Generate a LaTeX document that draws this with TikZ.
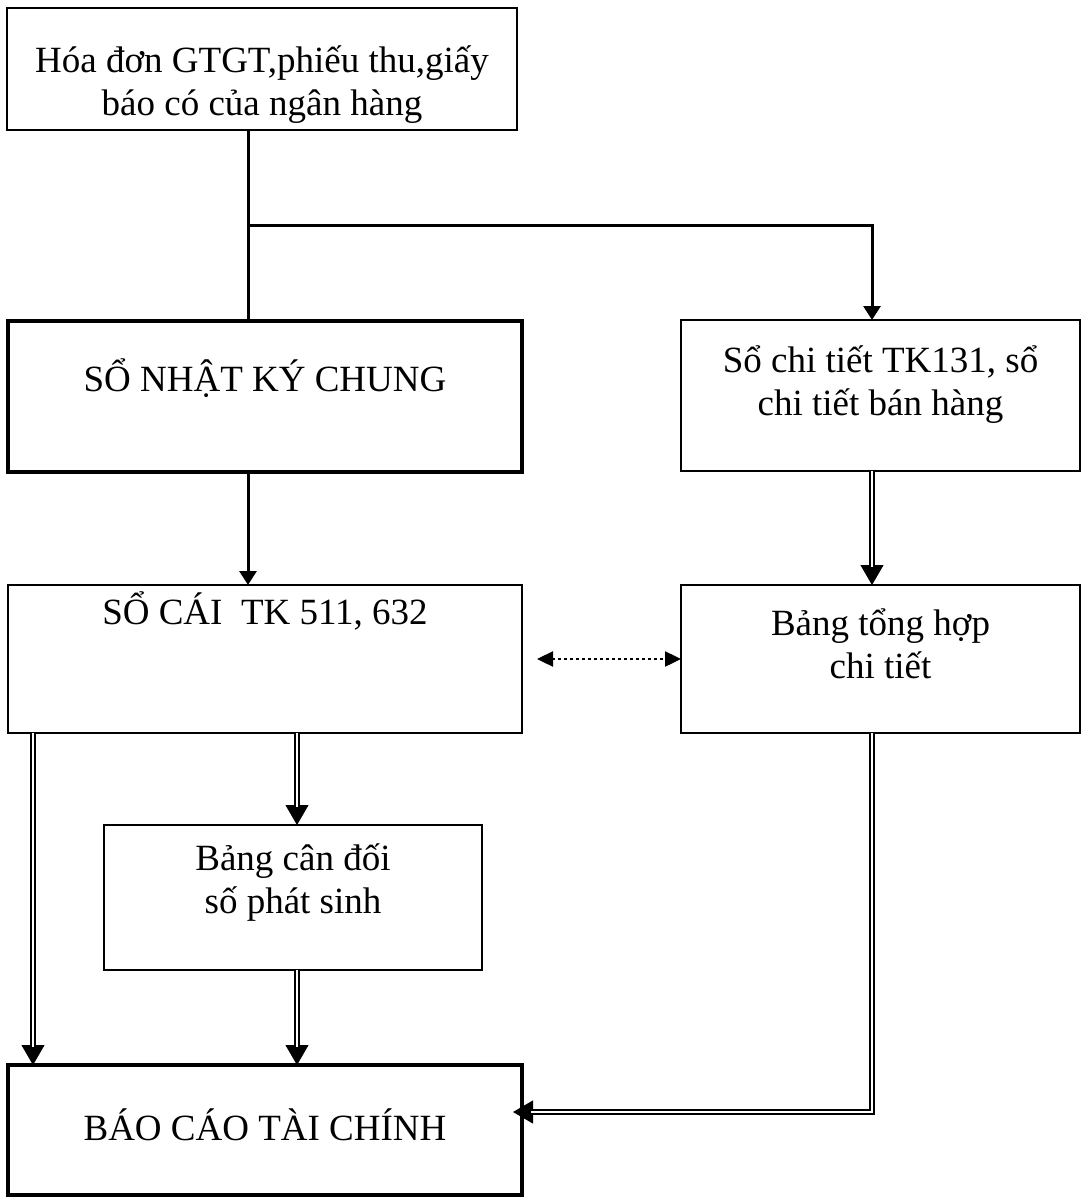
\documentclass[tikz,border=0pt]{standalone}
\usepackage{fontspec}
\setmainfont{Liberation Serif}
\usetikzlibrary{arrows.meta,calc}
\begin{document}
\begin{tikzpicture}[x=1pt,y=-1pt,
  box/.style={draw, line width=#1, rectangle, anchor=north west, inner sep=0pt, outer sep=0pt,
    align=center, font=\fontsize{37}{43}\selectfont},
  box/.default=2pt,
  conn/.style={line width=3pt, -{Triangle[length=14pt,width=17pt]}},
  tipd/.style={line width=1pt, -{Triangle[length=20pt,width=23pt]}},
  dbl/.style={double, line width=1.8pt, double distance=2.2pt, shorten >=18pt},
  dotarrow/.style={line width=2.4pt, dash pattern=on 2.4pt off 3.6pt,
    {Triangle[length=16pt,width=15pt]}-{Triangle[length=16pt,width=15pt]}}]
\path[use as bounding box, fill=white] (0,0) rectangle (1083,1198);

% boxes
\node[box=1.6pt, minimum width=510pt, minimum height=122pt, text height=106pt, text depth=12pt] (src) at (7,8)
  {Hóa đơn GTGT,phiếu thu,giấy\\báo có của ngân hàng};
\node[box=4pt, minimum width=514pt, minimum height=151pt, text height=30pt, text depth=41pt] (snkc) at (8,321)
  {SỔ NHẬT KÝ CHUNG};
\node[box=2pt, minimum width=399pt, minimum height=151pt, text height=69pt, text depth=30pt] (sct) at (681,320)
  {Sổ chi tiết TK131, sổ\\chi tiết bán hàng};
\node[box=2.5pt, minimum width=514pt, minimum height=148pt, text height=30pt, text depth=100pt] (soc) at (8,585)
  {SỔ CÁI\ \ TK 511, 632};
\node[box=2.5pt, minimum width=399pt, minimum height=148pt, text height=68pt, text depth=30pt] (bth) at (681,585)
  {Bảng tổng hợp\\chi tiết};
\node[box=2.5pt, minimum width=378pt, minimum height=145pt, text height=61pt, text depth=30pt] (bcd) at (104,825)
  {Bảng cân đối\\số phát sinh};
\node[box=4pt, minimum width=514pt, minimum height=130pt, text height=30pt, text depth=10pt] (bctc) at (8,1065)
  {BÁO CÁO TÀI CHÍNH};

% column coordinates
\coordinate (cA) at (248,0);
\coordinate (cB) at (872,0);
\coordinate (cC) at (33,0);
\coordinate (cD) at (297,0);
\coordinate (br) at ($(src.south -| cA)!0.5!(snkc.north -| cA)$);
\coordinate (bin) at ([shift={(-9,-18)}]bctc.east);

% single connectors
\draw[line width=3pt] (src.south -| cA) -- (snkc.north -| cA);
\draw[conn] (br) -| (sct.north -| cB);
\draw[conn] (snkc.south -| cA) -- (soc.north -| cA);

% double connectors
\draw[tipd] (sct.south -| cB) -- (bth.north -| cB);
\draw[dbl]  (sct.south -| cB) -- (bth.north -| cB);
\draw[tipd] (soc.south -| cD) -- (bcd.north -| cD);
\draw[dbl]  (soc.south -| cD) -- (bcd.north -| cD);
\draw[tipd] (soc.south -| cC) -- (bctc.north -| cC);
\draw[dbl]  (soc.south -| cC) -- (bctc.north -| cC);
\draw[tipd] (bcd.south -| cD) -- (bctc.north -| cD);
\draw[dbl]  (bcd.south -| cD) -- (bctc.north -| cD);
\draw[tipd] (bth.south -| cB) |- (bin);
\draw[dbl]  (bth.south -| cB) |- (bin);

% dotted two-way arrow
\draw[dotarrow] ([xshift=15pt]soc.east) -- (bth.west);
\end{tikzpicture}
\end{document}
